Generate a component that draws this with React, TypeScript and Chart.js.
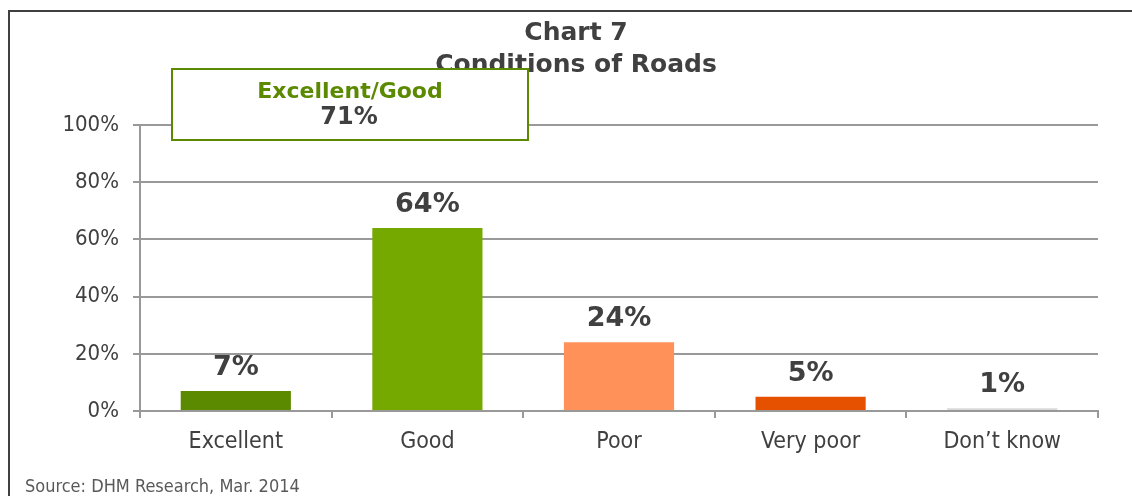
import React, { useEffect, useRef } from "react";
import { Chart, registerables } from "chart.js";

Chart.register(...registerables);

const categories = ["Excellent", "Good", "Poor", "Very poor", "Don’t know"];
const values = [7, 64, 24, 5, 1];
const valueLabels = ["7%", "64%", "24%", "5%", "1%"];
const barColors = ["#5B8A00", "#76A900", "#FF9159", "#E65100", "#D9D9D9"];
const yTicks = [0, 20, 40, 60, 80, 100];
const titleLines = ["Chart 7", "Conditions of Roads"];
const calloutTitle = "Excellent/Good";
const calloutValue = "71%";
const sourceText = "Source: DHM Research, Mar. 2014";

const COND = "'DejaVu Sans Condensed', 'DejaVu Sans', sans-serif";
const BOLD = "'DejaVu Sans', sans-serif";

const overlay = {
  id: "overlay",
  afterDraw(chart: any) {
    const ctx = chart.ctx as CanvasRenderingContext2D;
    const W = chart.width;
    const H = chart.height;
    ctx.save();
    // frame
    ctx.strokeStyle = "#404040";
    ctx.lineWidth = 2;
    ctx.beginPath();
    ctx.moveTo(9, H);
    ctx.lineTo(9, 11);
    ctx.lineTo(W, 11);
    ctx.stroke();

    // title
    ctx.fillStyle = "#404040";
    ctx.textAlign = "center";
    ctx.textBaseline = "middle";
    ctx.font = `bold 25px ${BOLD}`;
    ctx.fillText(titleLines[0], 576, 33);
    ctx.fillText(titleLines[1], 576, 65);

    // value labels
    const meta = chart.getDatasetMeta(0);
    ctx.font = `bold 27px ${BOLD}`;
    ctx.textBaseline = "alphabetic";
    meta.data.forEach((bar: any, i: number) => {
      ctx.fillText(valueLabels[i], bar.x, bar.y - 16);
    });

    // callout box
    ctx.fillStyle = "#FFFFFF";
    ctx.fillRect(172, 69, 356, 71);
    ctx.strokeStyle = "#5B8A00";
    ctx.lineWidth = 2;
    ctx.strokeRect(172, 69, 356, 71);
    ctx.textBaseline = "middle";
    ctx.fillStyle = "#5B8A00";
    ctx.font = `bold 22px ${BOLD}`;
    ctx.fillText(calloutTitle, 350, 92);
    ctx.fillStyle = "#404040";
    ctx.font = `bold 24px ${BOLD}`;
    ctx.fillText(calloutValue, 349, 118);

    // source
    ctx.textAlign = "left";
    ctx.fillStyle = "#595959";
    ctx.font = `18px ${COND}`;
    ctx.fillText(sourceText, 25, 487);
    ctx.restore();
  },
};

export default function App() {
  const ref = useRef<HTMLCanvasElement>(null);
  useEffect(() => {
    if (!ref.current) return;
    const chart = new Chart(ref.current, {
      type: "bar",
      data: {
        labels: categories,
        datasets: [
          {
            data: values,
            backgroundColor: barColors,
            borderWidth: 0,
            barPercentage: 0.575,
            categoryPercentage: 1,
          },
        ],
      },
      options: {
        responsive: false,
        animation: false,
        devicePixelRatio: 1,
        layout: { padding: { top: 125, right: 34, left: 0, bottom: 0 } },
        plugins: {
          legend: { display: false },
          title: { display: false },
          tooltip: { enabled: false },
        },
        scales: {
          x: {
            grid: {
              offset: true,
              drawOnChartArea: false,
              drawTicks: true,
              tickLength: 7,
              color: "#999999",
              lineWidth: 2,
            },
            border: { color: "#999999", width: 2 },
            ticks: {
              color: "#404040",
              font: { family: COND, size: 23 },
              padding: 10,
            },
            afterFit: (s: any) => {
              s.height = 85;
            },
          },
          y: {
            min: 0,
            max: 100,
            afterBuildTicks: (s: any) => {
              s.ticks = yTicks.map((v) => ({ value: v }));
            },
            grid: {
              color: "#999999",
              lineWidth: 2,
              tickLength: 7,
            },
            border: { color: "#999999", width: 2 },
            ticks: {
              color: "#404040",
              font: { family: COND, size: 22 },
              padding: 14,
              callback: (v: any) => `${v}%`,
            },
            afterFit: (s: any) => {
              s.width = 140;
            },
          },
        },
      },
      plugins: [overlay],
    });
    return () => chart.destroy();
  }, []);
  return (
    <div style={{ position: "fixed", left: 0, top: 0, width: 1132, height: 496, background: "#fff" }}>
      <canvas ref={ref} width={1132} height={496} style={{ width: 1132, height: 496, display: "block" }} />
    </div>
  );
}
